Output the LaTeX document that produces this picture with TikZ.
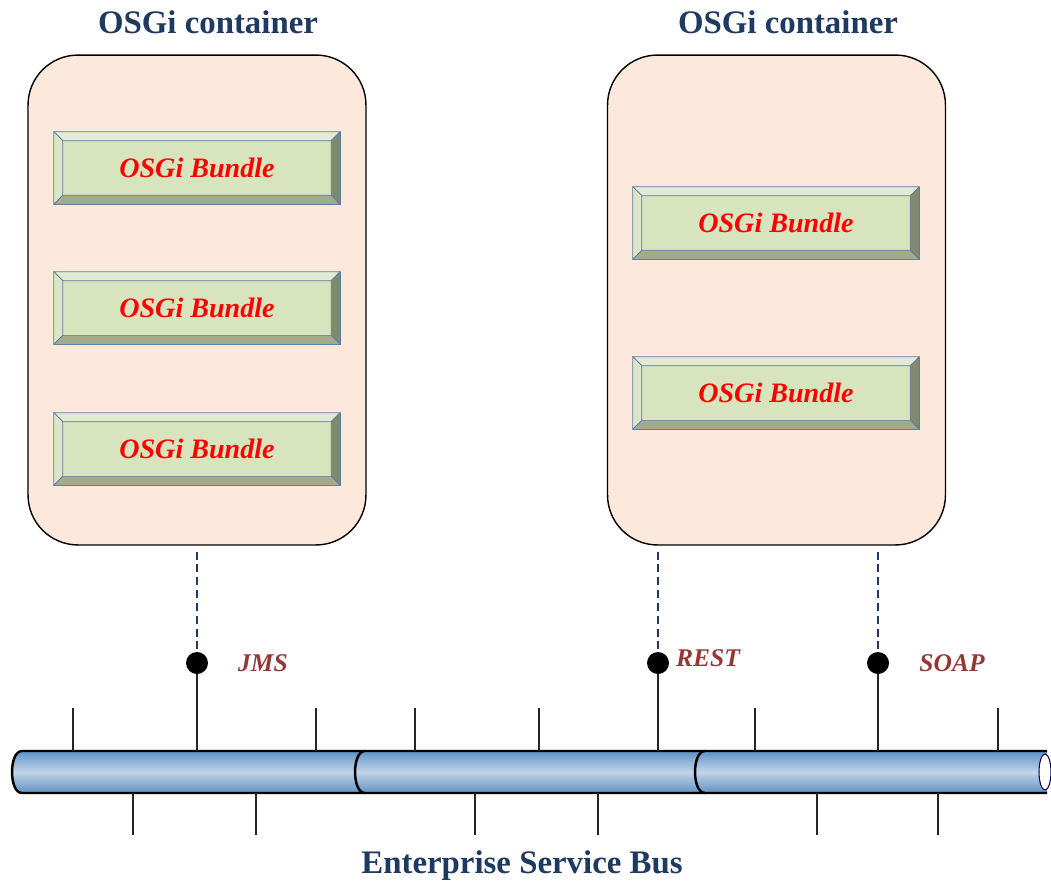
\documentclass[tikz,border=0pt]{standalone}
\usepackage{fontspec}
\setmainfont{Liberation Serif}

\definecolor{titleBlue}{HTML}{1F3A60}
\definecolor{labelRed}{HTML}{953735}
\definecolor{containerFill}{HTML}{FCE9DC}
\definecolor{bevelFace}{HTML}{D7E4BD}
\definecolor{bevelLight}{HTML}{E3EAD3}
\definecolor{bevelSide}{HTML}{DCE5C9}
\definecolor{bevelDark}{HTML}{808A6E}
\definecolor{bevelLow}{HTML}{A3AB8C}
\definecolor{bevelEdge}{HTML}{5A7BA5}
\definecolor{tubeDark}{HTML}{5F92C5}
\definecolor{tubeLight}{HTML}{C3D4E8}
\definecolor{dashBlue}{HTML}{1F3864}

\begin{document}
\begin{tikzpicture}
[x=0.02cm,y=-0.02cm,
  titleDecorate/.style={text=titleBlue,font=\fontsize{18.7}{22}\selectfont\bfseries},
  containerDecorate/.style={draw=black,line width=0.8pt,fill=containerFill,
    rounded corners=1cm,minimum width=6.76cm,minimum height=9.8cm},
  bundleDecorate/.style={draw=bevelEdge,fill=bevelFace,line width=0.4pt,
    minimum width=5.72cm,minimum height=1.44cm,inner sep=0pt,text=red,
    font=\fontsize{16}{18}\selectfont\bfseries\itshape},
  bevelDecorate/.style={draw=bevelEdge,line width=0.4pt,line join=round},
  tubeDecorate/.style={draw=black,line width=1.4pt,top color=tubeDark,
    bottom color=tubeDark,middle color=tubeLight},
  tickDecorate/.style={-,line width=1pt,black!85},
  dotDecorate/.style={shape=circle,fill=black,minimum size=0.44cm,inner sep=0pt},
  dashDecorate/.style={-,line width=1.2pt,dashBlue,dash pattern=on 4.5pt off 2.8pt},
  labelDecorate/.style={text=labelRed,font=\fontsize{14.5}{17}\selectfont\bfseries\itshape}]
\useasboundingbox (0,0) rectangle (1051,883);

%% containers
\node (c1) at (197,300) [containerDecorate] {};
\node (c2) at (776.5,300) [containerDecorate] {};
\node (leftTitle) at (208,22) [titleDecorate] {OSGi container};
\node (rightTitle) at (788,22) [titleDecorate] {OSGi container};

%% bundles
\foreach \nodename/\x/\y in {
  b1/197/168, b2/197/308, b3/197/449, b4/776/223, b5/776/393}
{
  \node (\nodename) at (\x,\y) [bundleDecorate] {OSGi Bundle};
}
\foreach \b in {b1,b2,b3,b4,b5}
{
  \filldraw[bevelDecorate,fill=bevelLight] (\b.north west) -- (\b.north east)
    -- ([shift={(-9,9)}]\b.north east) -- ([shift={(9,9)}]\b.north west) -- cycle;
  \filldraw[bevelDecorate,fill=bevelSide] (\b.north west) -- ([shift={(9,9)}]\b.north west)
    -- ([shift={(9,-9)}]\b.south west) -- (\b.south west) -- cycle;
  \filldraw[bevelDecorate,fill=bevelDark] (\b.north east) -- (\b.south east)
    -- ([shift={(-9,-9)}]\b.south east) -- ([shift={(-9,9)}]\b.north east) -- cycle;
  \filldraw[bevelDecorate,fill=bevelLow] (\b.south west) -- (\b.south east)
    -- ([shift={(-9,-9)}]\b.south east) -- ([shift={(9,-9)}]\b.south west) -- cycle;
}

%% bus
\coordinate (busTop) at (0,751);
\coordinate (busBottom) at (0,793);
\foreach \sx/\ex in {12/366, 355/706, 695/1047}
{
  \draw[tubeDecorate] (\ex,751) -- (\sx+10,751)
    .. controls (\sx-3.3,751) and (\sx-3.3,793) .. (\sx+10,793) -- (\ex,793);
}
\draw[draw=blue!40!black,line width=0.6pt,fill=white] (1045,772) ellipse [x radius=0.12cm,y radius=0.36cm];
\node (busTitle) at (522,866) [titleDecorate] {Enterprise Service Bus};

%% ticks
\foreach \tickname/\x in {1/73, 2/316, 3/415, 4/539, 5/755, 6/998}
{
  \coordinate (up\tickname) at (\x,708);
  \draw[tickDecorate] (up\tickname) -- (up\tickname |- busTop);
}
\foreach \tickname/\x in {1/133, 2/256, 3/475, 4/598, 5/817, 6/938}
{
  \coordinate (down\tickname) at (\x,835);
  \draw[tickDecorate] (down\tickname |- busBottom) -- (down\tickname);
}

%% endpoints
\foreach \nodename/\x in {jms/197, rest/658, soap/878}
{
  \draw[tickDecorate] (\x,663) -- (\x,751);
  \node (\nodename) at (\x,663) [dotDecorate] {};
}
\draw[dashDecorate] ([yshift=-0.12cm]c1.south) -- (jms);
\draw[dashDecorate] ([yshift=-0.12cm]c2.south -| rest) -- (rest);
\draw[dashDecorate] ([yshift=-0.12cm]c2.south -| soap) -- (soap);
\node (jmsLabel) at (263,663) [labelDecorate] {JMS};
\node (restLabel) at (708,658) [labelDecorate] {REST};
\node (soapLabel) at (952,663) [labelDecorate] {SOAP};
\end{tikzpicture}
\end{document}
